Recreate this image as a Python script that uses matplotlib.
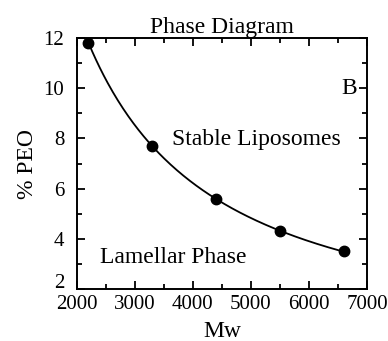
import numpy as np
import matplotlib
matplotlib.use("Agg")
import matplotlib.pyplot as plt
from matplotlib.ticker import MultipleLocator, FuncFormatter

# dane
mw = np.array([2200, 3300, 4400, 5500, 6600])
peo = np.array([11.8, 7.7, 5.6, 4.3, 3.5])

plt.rcParams['font.family'] = ['Liberation Serif', 'DejaVu Serif']

fig = plt.figure(figsize=(3.88, 3.41), dpi=100)
ax = fig.add_axes([0.198, 0.152, 0.748, 0.737])

# gladka krzywa dopasowana w skali log-log
coef = np.polyfit(np.log(mw), np.log(peo), 2)
xs = np.linspace(mw.min(), mw.max(), 200)
ax.plot(xs, np.exp(np.polyval(coef, np.log(xs))), color='black', linewidth=1.3)
ax.plot(mw, peo, 'o', color='black', markersize=7.5)

ax.set_xlim(2000, 7000)
ax.set_ylim(2, 12)
ax.xaxis.set_major_locator(MultipleLocator(1000))
ax.xaxis.set_minor_locator(MultipleLocator(500))
ax.yaxis.set_major_locator(MultipleLocator(2))
ax.yaxis.set_minor_locator(MultipleLocator(1))
# etykiete "2" rysujemy osobno, troche wyzej
ax.yaxis.set_major_formatter(FuncFormatter(lambda v, p: '' if v <= 2 else f'{v:g}'))
ax.tick_params(which='both', direction='in', top=True, right=True, labelsize=15, width=1.3)
ax.tick_params(which='major', length=6)
ax.tick_params(which='minor', length=3.5)
ax.tick_params(axis='y', pad=9)
ax.tick_params(axis='x', pad=4)
for s in ax.spines.values():
    s.set_linewidth(1.4)

ax.annotate('2', xy=(0, 2), xycoords=('axes fraction', 'data'),
            xytext=(-9, 4), textcoords='offset points',
            ha='right', va='center', fontsize=15)

ax.set_title('Phase Diagram', fontsize=17, pad=3)
ax.set_xlabel('Mw', fontsize=17, labelpad=5)
ax.set_ylabel('% PEO', fontsize=17, labelpad=4)

ax.text(6690, 10.0, 'B', fontsize=17, ha='center', va='center')
ax.text(5086, 7.95, 'Stable Liposomes', fontsize=17, ha='center', va='center')
ax.text(3655, 3.25, 'Lamellar Phase', fontsize=17, ha='center', va='center')

fig.savefig('out.png', dpi=100)
